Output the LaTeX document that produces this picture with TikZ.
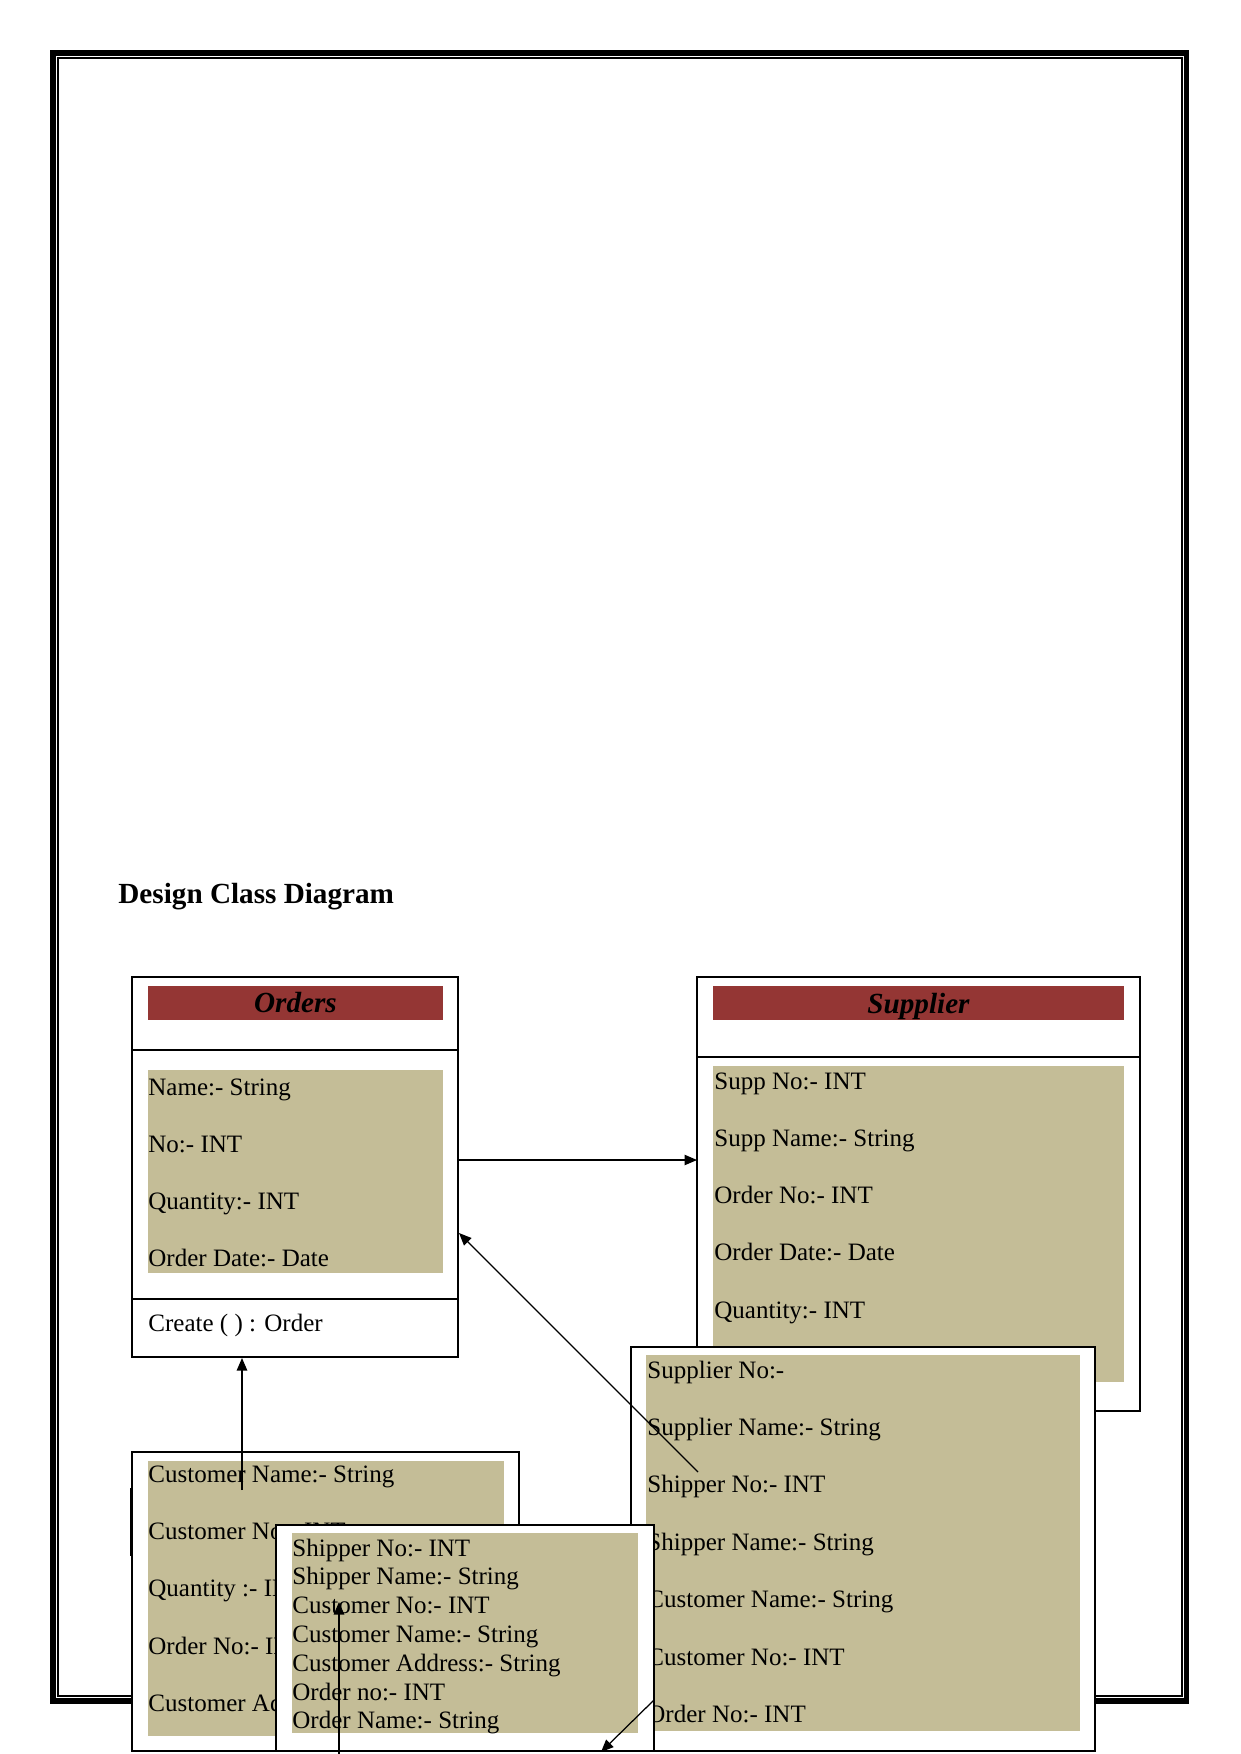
\documentclass[tikz,border=0pt]{standalone}
\usepackage{xcolor}
\usepackage{fontspec}
\setmainfont{Liberation Serif}
\usetikzlibrary{arrows.meta}

\definecolor{rojoclase}{HTML}{943634}
\definecolor{arena}{HTML}{C4BD97}

\tikzset{
  caja/.style={draw=black, line width=0.8pt, fill=white},
  cabecera/.style={fill=rojoclase},
  atributos/.style={fill=arena},
  texto/.style={anchor=base west, inner sep=0pt, font=\fontsize{12}{14}\selectfont},
  nombreclase/.style={anchor=base, inner sep=0pt, font=\fontsize{14}{16}\selectfont\bfseries\itshape},
  flecha/.style={line width=0.6pt, -{Triangle[length=6pt,width=5pt]}}
}

\begin{document}
\begin{tikzpicture}[x=0.4797pt, y=-0.4797pt]
        \useasboundingbox (0,0) rectangle (1241,1754);

        % Paso 1: Dibuja el marco doble de la pagina
        \draw[line width=2.65pt] (53,53) rectangle (1186.5,1701);
        \draw[line width=0.65pt] (58,58) rectangle (1182,1696);

        % Paso 2: Titulo del diagrama
        \node[anchor=base west, inner sep=0pt, font=\fontsize{14}{16}\selectfont\bfseries]
            (titulo) at (118,903) {Design Class Diagram};

        % Paso 3: Clase Orders con cabecera, atributos y metodo
        \draw[caja] (132,977) rectangle (458,1357);
        \draw[line width=0.8pt] (132,1050) -- (458,1050);
        \draw[line width=0.8pt] (132,1299) -- (458,1299);
        \fill[cabecera] (148,986) rectangle (443,1020);
        \node[nombreclase] (orders) at (295.5,1012) {Orders};
        \fill[atributos] (148,1070) rectangle (443,1273);
        \foreach \t [count=\i from 0] in {Name:- String, No:- INT, Quantity:- INT, Order Date:- Date}
            \node[texto] (ord\i) at (148,{1095+57.3*\i}) {\t};
        \node[texto] (create) at (148,1331) {Create ( ) : Order};

        % Paso 4: Clase Supplier
        \draw[caja] (697,977) rectangle (1140,1411);
        \draw[line width=0.8pt] (697,1057) -- (1140,1057);
        \fill[cabecera] (713,986) rectangle (1124,1020);
        \node[nombreclase] (supplier) at (918.5,1013) {Supplier};
        \fill[atributos] (713,1066) rectangle (1124,1382);
        \foreach \t [count=\i from 0] in {Supp No:- INT, Supp Name:- String, Order No:- INT, Order Date:- Date, Quantity:- INT}
            \node[texto] (sup\i) at (714,{1089+57.3*\i}) {\t};

        % Paso 5: Caja de envio (Supplier No ...) encima de Supplier
        \draw[caja] (631,1347) rectangle (1095,1751);
        \fill[atributos] (646,1355) rectangle (1080,1731);
        \foreach \t [count=\i from 0] in {Supplier No:-, Supplier Name:- String, Shipper No:- INT, Shipper Name:- String, Customer Name:- String, Customer No:- INT, Order No:- INT}
            \node[texto] (env\i) at (647,{1378+57.4*\i}) {\t};

        % Paso 6: Caja de cliente
        \draw[caja] (132,1452) rectangle (519,1751);
        \fill[atributos] (148,1461) rectangle (504,1736);
        \foreach \t [count=\i from 0] in {Customer Name:- String, Customer No:- INT, Quantity :- INT, Order No:- INT, Customer Address:- String}
            \node[texto] (cli\i) at (148,{1482+57.4*\i}) {\t};
        \draw[line width=1.4pt] (131,1488) -- (131,1556);

        % Paso 7: Caja de Shipper al frente
        \draw[caja] (276,1525) rectangle (654,1751);
        \fill[atributos] (292,1533) rectangle (638,1733);
        \foreach \t [count=\i from 0] in {Shipper No:- INT, Shipper Name:- String, Customer No:- INT, Customer Name:- String, Customer Address:- String, Order no:- INT, Order Name:- String}
            \node[texto] (shp\i) at (292,{1556+28.8*\i}) {\t};

        % Paso 8: Define puntos de los conectores
        \coordinate (ordE) at (459,1160);
        \coordinate (supW) at (697,1160);
        \coordinate (envD) at (698,1472);
        \coordinate (ordD) at (459,1233);
        \coordinate (cliU) at (242,1490);
        \coordinate (ordB) at (242,1358);
        \coordinate (shpB) at (339,1754);
        \coordinate (shpU) at (339,1602);
        \coordinate (shpE) at (654,1700);
        \coordinate (shpS) at (601,1752);

        % Paso 9: Dibuja los conectores con flecha
        \draw[flecha] (ordE) -- (supW);
        \draw[flecha] (envD) -- (ordD);
        \draw[flecha] (cliU) -- (ordB);
        \draw[flecha] (shpB) -- (shpU);
        \draw[flecha] (shpE) -- (shpS);
    \end{tikzpicture}
\end{document}
